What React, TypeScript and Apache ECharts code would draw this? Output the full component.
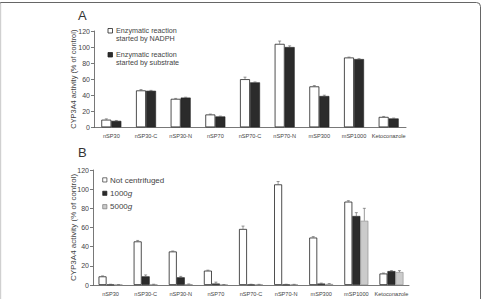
import React, { useEffect, useRef } from "react";
import * as echarts from "echarts";

// Sample fractions shared by both panels
const categories = [
  "nSP30",
  "nSP30-C",
  "nSP30-N",
  "nSP70",
  "nSP70-C",
  "nSP70-N",
  "mSP300",
  "mSP1000",
  "Ketoconazole",
];

const yTicks = { min: 0, max: 120, interval: 20 };

// Panel A: CYP3A4 activity (% of control) by start of reaction
const nadphStart = [9.5, 46, 35.5, 16, 60, 104, 51, 87, 13];
const nadphStartErr = [1, 1, 0.5, 0.5, 2.5, 3.5, 1, 0.5, 0.5];
const substrateStart = [8, 45.5, 37, 13.5, 56, 100, 39, 85, 11];
const substrateStartErr = [0.5, 0.5, 0.5, 0.5, 0.5, 1.5, 1, 0.5, 0.5];

// Panel B: CYP3A4 activity (% of control) after centrifugation
const notCentrifuged = [9, 45.5, 35, 15, 58.5, 105, 49.5, 87, 12];
const notCentrifugedErr = [0.5, 1, 0.5, 0.5, 3, 3, 1, 1, 0.5];
const spun1000g = [0.5, 9, 8, 1.5, 0.5, 0.5, 1.5, 72, 14.5];
const spun1000gErr = [0.3, 1.5, 1, 1.5, 0.3, 0.3, 0.5, 3.5, 0.5];
const spun5000g = [0.3, 0.5, 0.8, 0.3, 0.5, 0.5, 1, 67, 13.5];
const spun5000gErr = [0.2, 0.3, 0.3, 0.2, 0.2, 0.2, 0.5, 13, 1.5];

const FONT = "Liberation Sans, Arial, sans-serif";
const AXIS_COLOR = "#555";
const TEXT_COLOR = "#444";

const WHITE = { color: "#ffffff", borderColor: "#222", borderWidth: 0.8 };
const BLACK = { color: "#2b2b2b", borderColor: "#222", borderWidth: 0.6 };
const GREY = { color: "#cbcbcb", borderColor: "#888", borderWidth: 0.6 };

// One-sided (upward) error bar drawn above a bar, shifted to that bar's slot
function errorBars(
  values: number[],
  errs: number[],
  offset: number,
  axisIndex: number
) {
  return {
    type: "custom",
    xAxisIndex: axisIndex,
    yAxisIndex: axisIndex,
    z: 5,
    silent: true,
    encode: { x: 0, y: [1, 2] },
    data: values.map((v, i) => [i, v, v + errs[i]]),
    renderItem: (_params: any, api: any) => {
      const i = api.value(0);
      const base = api.coord([i, api.value(1)]);
      const top = api.coord([i, api.value(2)]);
      const x = base[0] + offset;
      const style = { stroke: "#555", lineWidth: 0.6 };
      return {
        type: "group",
        children: [
          {
            type: "line",
            shape: { x1: x, y1: base[1], x2: x, y2: top[1] },
            style,
          },
          {
            type: "line",
            shape: { x1: x - 1.5, y1: top[1], x2: x + 1.5, y2: top[1] },
            style,
          },
        ],
      };
    },
  };
}

function catAxis(gridIndex: number, margin: number) {
  return {
    type: "category",
    gridIndex,
    data: categories,
    axisLine: { lineStyle: { color: AXIS_COLOR, width: 0.8 } },
    axisTick: { length: 2.5, lineStyle: { color: AXIS_COLOR, width: 0.8 } },
    axisLabel: {
      interval: 0,
      fontSize: 5.6,
      color: TEXT_COLOR,
      margin,
      fontFamily: FONT,
    },
  };
}

function valAxis(gridIndex: number, nameSize: number, nameGap: number) {
  return {
    type: "value",
    gridIndex,
    ...yTicks,
    name: "CYP3A4 activity (% of control)",
    nameLocation: "middle",
    nameGap,
    nameMoveOverlap: false,
    nameTextStyle: { fontSize: nameSize, color: TEXT_COLOR, fontFamily: FONT },
    splitLine: { show: false },
    axisLine: { show: true, lineStyle: { color: AXIS_COLOR, width: 0.8 } },
    axisTick: { show: true, length: 3, lineStyle: { color: AXIS_COLOR, width: 0.8 } },
    axisLabel: { fontSize: 7, color: TEXT_COLOR, margin: 4, fontFamily: FONT },
  };
}

export default function App() {
  const ref = useRef<HTMLDivElement>(null);

  useEffect(() => {
    if (!ref.current) return;
    const chart = echarts.init(ref.current, undefined, { renderer: "svg" });

    const bwA = 10;
    const bwB = 8;

    const option: any = {
      animation: false,
      backgroundColor: "#ffffff",
      textStyle: { fontFamily: FONT },
      grid: [
        { left: 94, top: 31, width: 312, height: 96.3 },
        { left: 93, top: 170, width: 316, height: 115 },
      ],
      xAxis: [catAxis(0, 5.5), catAxis(1, 6)],
      yAxis: [valAxis(0, 7.4, 17), valAxis(1, 8, 16)],
      series: [
        {
          name: "Enzymatic reaction started by NADPH",
          type: "bar",
          xAxisIndex: 0,
          yAxisIndex: 0,
          barWidth: bwA,
          barGap: "0%",
          itemStyle: WHITE,
          data: nadphStart,
        },
        {
          name: "Enzymatic reaction started by substrate",
          type: "bar",
          xAxisIndex: 0,
          yAxisIndex: 0,
          barWidth: bwA,
          barGap: "0%",
          itemStyle: BLACK,
          data: substrateStart,
        },
        errorBars(nadphStart, nadphStartErr, -bwA / 2, 0),
        errorBars(substrateStart, substrateStartErr, bwA / 2, 0),
        {
          name: "Not centrifuged",
          type: "bar",
          xAxisIndex: 1,
          yAxisIndex: 1,
          barWidth: bwB,
          barGap: "0%",
          itemStyle: WHITE,
          data: notCentrifuged,
        },
        {
          name: "1000g",
          type: "bar",
          xAxisIndex: 1,
          yAxisIndex: 1,
          barWidth: bwB,
          barGap: "0%",
          itemStyle: BLACK,
          data: spun1000g,
        },
        {
          name: "5000g",
          type: "bar",
          xAxisIndex: 1,
          yAxisIndex: 1,
          barWidth: bwB,
          barGap: "0%",
          itemStyle: GREY,
          data: spun5000g,
        },
        errorBars(notCentrifuged, notCentrifugedErr, -bwB, 1),
        errorBars(spun1000g, spun1000gErr, 0, 1),
        errorBars(spun5000g, spun5000gErr, bwB, 1),
      ],
      graphic: [
        // figure frame
        {
          type: "rect",
          z: 0,
          silent: true,
          shape: { x: 0.5, y: 2.5, width: 480, height: 320, r: [0, 4, 0, 0] },
          style: { fill: "none", stroke: "#666", lineWidth: 1 },
        },
        {
          type: "line",
          z: 1,
          silent: true,
          shape: { x1: 0.5, y1: 3.2, x2: 0.5, y2: 299 },
          style: { stroke: "#d0d0d0", lineWidth: 1.4 },
        },
        // panel letters
        {
          type: "text",
          left: 78,
          top: 9,
          style: { text: "A", fontSize: 13, fill: "#333", fontFamily: FONT },
        },
        {
          type: "text",
          left: 78,
          top: 146,
          style: { text: "B", fontSize: 13, fill: "#333", fontFamily: FONT },
        },
        // panel A key
        {
          type: "rect",
          shape: { x: 108, y: 28.5, width: 4.5, height: 4.5 },
          style: { fill: WHITE.color, stroke: "#222", lineWidth: 0.8 },
        },
        {
          type: "text",
          x: 116,
          y: 26.9,
          style: {
            text: "Enzymatic reaction\nstarted by NADPH",
            fontSize: 7.2,
            lineHeight: 7.6,
            fill: TEXT_COLOR,
            fontFamily: FONT,
            verticalAlign: "top",
          },
        },
        {
          type: "rect",
          shape: { x: 108, y: 52.5, width: 4.5, height: 4.5 },
          style: { fill: BLACK.color, stroke: "#222", lineWidth: 0.8 },
        },
        {
          type: "text",
          x: 116,
          y: 50.6,
          style: {
            text: "Enzymatic reaction\nstarted by substrate",
            fontSize: 7.2,
            lineHeight: 7.8,
            fill: TEXT_COLOR,
            fontFamily: FONT,
            verticalAlign: "top",
          },
        },
        // panel B key
        {
          type: "rect",
          shape: { x: 102.7, y: 177.8, width: 4.2, height: 4.2 },
          style: { fill: WHITE.color, stroke: "#333", lineWidth: 0.7 },
        },
        {
          type: "text",
          x: 110,
          y: 180,
          style: {
            text: "Not centrifuged",
            fontSize: 8,
            fill: TEXT_COLOR,
            fontFamily: FONT,
            verticalAlign: "middle",
          },
        },
        {
          type: "rect",
          shape: { x: 102.7, y: 191.2, width: 4.2, height: 4.2 },
          style: { fill: BLACK.color, stroke: "#222", lineWidth: 0.7 },
        },
        {
          type: "text",
          x: 110,
          y: 193.3,
          style: {
            text: "1000{i|g}",
            fontSize: 8,
            fill: TEXT_COLOR,
            fontFamily: FONT,
            verticalAlign: "middle",
            rich: { i: { fontSize: 8, fontStyle: "italic", fill: TEXT_COLOR, fontFamily: FONT } },
          },
        },
        {
          type: "rect",
          shape: { x: 102.7, y: 204.6, width: 4.2, height: 4.2 },
          style: { fill: GREY.color, stroke: "#777", lineWidth: 0.7 },
        },
        {
          type: "text",
          x: 110,
          y: 206.7,
          style: {
            text: "5000{i|g}",
            fontSize: 8,
            fill: TEXT_COLOR,
            fontFamily: FONT,
            verticalAlign: "middle",
            rich: { i: { fontSize: 8, fontStyle: "italic", fill: TEXT_COLOR, fontFamily: FONT } },
          },
        },
      ],
    };

    chart.setOption(option);
    return () => chart.dispose();
  }, []);

  return (
    <div
      ref={ref}
      style={{
        position: "fixed",
        left: 0,
        top: 0,
        width: 483,
        height: 299,
        background: "#fff",
      }}
    />
  );
}
